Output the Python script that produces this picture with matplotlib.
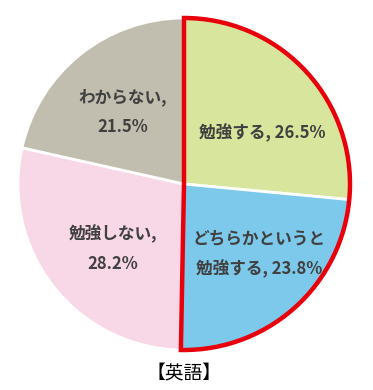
import matplotlib
matplotlib.use("Agg")
import matplotlib.pyplot as plt
from matplotlib.patches import Wedge

plt.rcParams['font.family'] = ['Noto Sans CJK JP', 'DejaVu Sans']

categories = ["勉強する", "どちらかというと\n勉強する", "勉強しない", "わからない"]
values = [26.5, 23.8, 28.2, 21.5]
colors = ["#D8E59C", "#7DC9EB", "#F8D8E7", "#C2BEAF"]
title = "【英語】"

W, H = 373, 390
fig = plt.figure(figsize=(W / 100, H / 100), dpi=100)
ax = fig.add_axes([0, 0, 1, 1])

cx, cy, R = 184, H - 184, 166
ax.pie(values, colors=colors, startangle=90, counterclock=False,
       center=(cx, cy), radius=R, frame=True,
       wedgeprops=dict(edgecolor='white', linewidth=2))
ax.set_xlim(0, W)
ax.set_ylim(0, H)
ax.set_aspect('equal')
ax.axis('off')

# red outline around the first two slices
frac = (values[0] + values[1]) / sum(values)
ax.add_patch(Wedge((cx, cy), R, 90 - frac * 360, 90, fill=False,
                   edgecolor='#E8000B', linewidth=3.2, zorder=5,
                   joinstyle='miter'))

label_pos = [(262, 133), (259, 254), (113, 249), (123, 112)]
tc = '#404040'
for cat, v, (x, y) in zip(categories, values, label_pos):
    if cat.startswith("どちら"):
        txt = cat + f", {v}%"
    elif cat == "勉強する":
        txt = f"{cat}, {v}%"
    else:
        txt = f"{cat},\n{v}%"
    ax.text(x, H - y, txt, ha='center', va='center', fontsize=12,
            fontweight='bold', color=tc, linespacing=1.85, zorder=6)

ax.text(184, H - 374, title, ha='center', va='center', fontsize=13.5,
        color='black')

fig.savefig("out.png", dpi=100)
